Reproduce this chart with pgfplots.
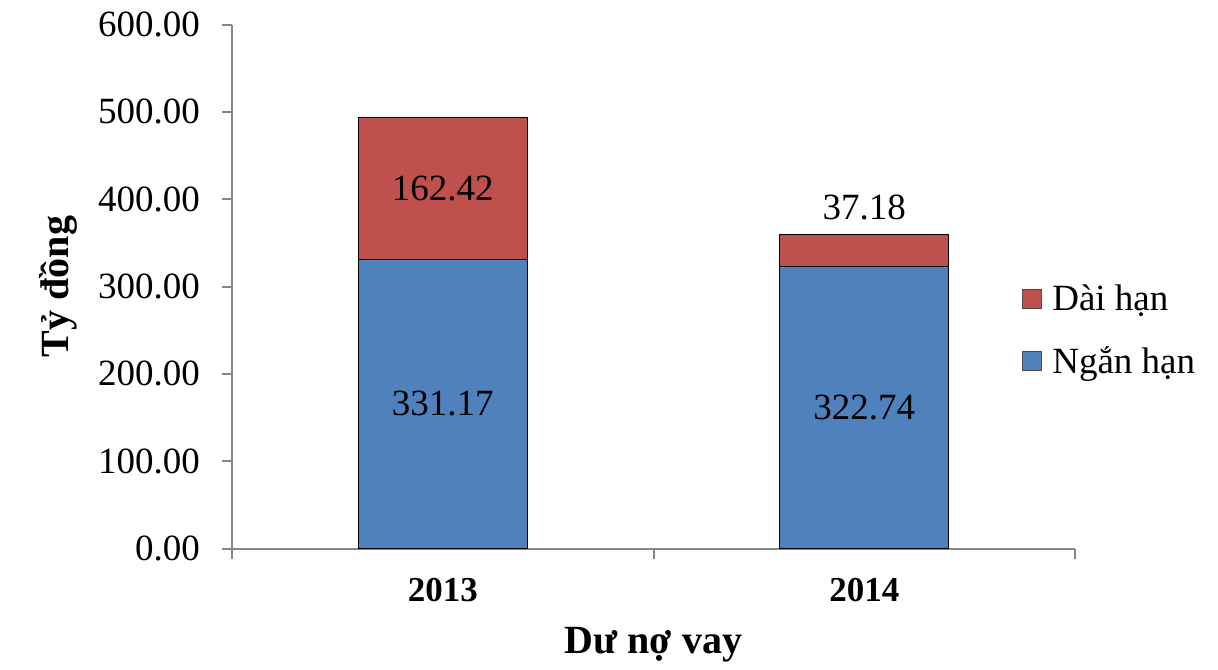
\documentclass[border=0pt]{standalone}
\usepackage{pgfplots}
\pgfplotsset{compat=1.18}
\usepackage{pgfplotstable}
\usepackage{fontspec}
\setmainfont{Liberation Serif}
\definecolor{barblue}{HTML}{4F81BD}
\definecolor{barred}{HTML}{C0504D}
\definecolor{axgray}{HTML}{868686}
\newcommand{\bigf}{\fontsize{18.5}{22}\selectfont}
\newcommand{\titf}{\fontsize{20}{24}\selectfont\bfseries}
\newcommand{\catf}{\fontsize{17.5}{21}\selectfont\bfseries}

\pgfplotstableread{
x short long
0 331.17 162.42
1 322.74 37.18
}\datatable

\begin{document}
\begin{tikzpicture}
\begin{axis}[
  name=ax,
  scale only axis,
  width=421.5pt, height=262pt,
  xmin=-0.5, xmax=1.5, ymin=0, ymax=600,
  ybar stacked, bar width=84.5pt,
  axis x line*=bottom, axis y line*=left,
  axis line style={axgray, line width=1pt, -},
  every tick/.style={axgray, line width=1pt},
  tick align=outside,
  major tick length=5pt,
  xtick={-0.5,0.5,1.5}, xticklabels={},
  extra x ticks={0,1}, extra x tick labels={2013,2014},
  extra x tick style={major tick length=0pt, tick label style={font=\catf, yshift=-11.5pt}},
  ytick={0,100,...,600},
  /pgf/number format/assume math mode=true,
  yticklabel style={font=\bigf, xshift=-7.5pt, /pgf/number format/fixed, /pgf/number format/fixed zerofill, /pgf/number format/precision=2},
  xlabel={Dư nợ vay},
  xlabel style={font=\titf, at={(axis description cs:0.5,-0.183)}, anchor=center},
  ylabel={Tỷ đồng},
  ylabel style={font=\titf, at={(axis description cs:-0.2064,0.5)}, anchor=center},
  reverse legend,
  legend cell align=left,
  legend style={at={(rel axis cs:0.937,0.416)}, anchor=west, draw=none, fill=none, font=\bigf, row sep=12.5pt, inner sep=0pt,
    /tikz/every odd column/.append style={column sep=3pt}},
]
\addplot[fill=barblue, draw=black, line width=0.5pt,
  legend image code/.code={\draw[fill=barblue, draw=black!70, line width=0.5pt] (0pt,-4.75pt) rectangle (9.5pt,4.75pt);}]
  table[x=x,y=short]{\datatable};
\addplot[fill=barred, draw=black, line width=0.5pt,
  legend image code/.code={\draw[fill=barred, draw=black!70, line width=0.5pt] (0pt,-4.75pt) rectangle (9.5pt,4.75pt);}]
  table[x=x,y=long]{\datatable};
\legend{Ngắn hạn, Dài hạn}
\coordinate (la) at (axis cs:0,165.585);
\coordinate (lb) at (axis cs:0,412.38);
\coordinate (lc) at (axis cs:1,161.37);
\coordinate (ld) at (axis cs:1,391);
\end{axis}
\node[font=\bigf] at (la) {331.17};
\node[font=\bigf] at (lb) {162.42};
\node[font=\bigf] at (lc) {322.74};
\node[font=\bigf] at (ld) {37.18};
\pgfresetboundingbox
\path[use as bounding box] ([xshift=-116pt,yshift=-60.25pt]ax.south west) rectangle ([xshift=71.5pt,yshift=12.25pt]ax.north east);
\end{tikzpicture}
\end{document}
